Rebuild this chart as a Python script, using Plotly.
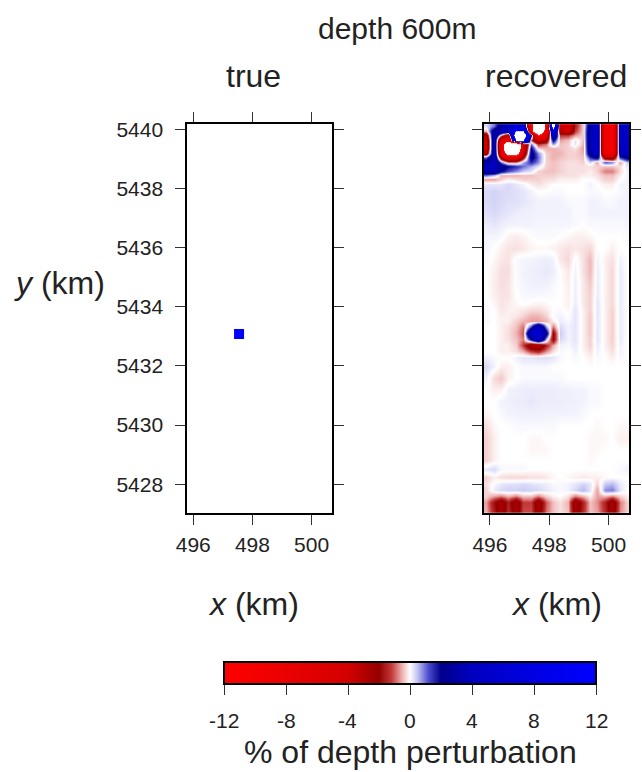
import plotly.graph_objects as go

# ---------------- data ----------------
true_x_edges = [497.38, 497.72]
true_y_edges = [5432.91, 5433.25]
true_value = [[12.0]]

rec_x = [495.875, 496.125, 496.375, 496.625, 496.875, 497.125, 497.375, 497.625, 497.875, 498.125,
         498.375, 498.625, 498.875, 499.125, 499.375, 499.625, 499.875, 500.125, 500.375, 500.625]

# rows listed from top (north) to bottom (south)
rec_y = [5440.10, 5439.95, 5439.80, 5439.65, 5439.50, 5439.35, 5439.20, 5439.05, 5438.90, 5438.75,
         5438.60, 5438.45, 5438.30, 5438.15, 5437.9, 5437.6, 5437.2, 5436.8, 5436.4, 5436.0,
         5435.6, 5435.2, 5434.8, 5434.4, 5434.1, 5433.9, 5433.7, 5433.5, 5433.3, 5433.1,
         5432.9, 5432.7, 5432.5, 5432.3, 5432.0, 5431.6, 5431.2, 5430.8, 5430.4, 5430.0,
         5429.6, 5429.2, 5428.8, 5428.5, 5428.25, 5428.0, 5427.8, 5427.6, 5427.4, 5427.05]

rec_z = [
    [0.3, 1.0, 3, 4, 6, 6, -10, -22, -10, 16, -4, -5, -1.5, -0.3, 3, 5, -9, -10, 4, 5],
    [-0.5, 3, 4, 4, 13, 13, -9, -20, -9, 8, -3, -4, -1.2, -0.3, 3.5, 5, -9, -10, 4, 5],
    [-3, 4, -0.5, -4, 18, 18, 2, -11, -6, 5, -1.2, -1.2, -0.6, -0.3, 3.5, 5, -9, -10, 4, 5],
    [-4, 4, -6, -8, 12.5, 12.5, -1, -4, -2.5, 2, -0.6, -0.4, 0.2, -0.4, 3.5, 5, -9, -10, 4, 5],
    [-4, 4, -7, -22, -22, -5, 1, -1.2, -0.8, 0.6, -0.4, -0.3, 0.2, -0.5, 3.5, 5, -9, -10, 4, 5],
    [-4, 4, -7, -22, -22, -5, 2, -0.3, -0.5, -0.5, -0.4, -0.3, -0.2, -0.6, 3.5, 5, -9, -10, 4, 5],
    [-3, 4, -6, -16, -16, -4, 2.5, 0.8, -0.3, -0.5, -0.5, -0.3, -0.3, -0.5, 3, 4.5, -8, -9, 3.5, 4.5],
    [1, 4, -3, -6, -6, -2, 2.5, 1.0, -0.3, -0.5, -0.4, -0.3, -0.3, -0.4, 1.5, 2.5, -3, -3.5, 1.5, 2.5],
    [3, 4, 1, -0.8, -0.8, 0.6, 1.5, 0.8, -0.3, -0.4, -0.3, -0.2, -0.2, -0.3, 0.3, -0.6, 1.2, 0.9, -0.6, 0.4],
    [4, 4, 3, 2, 1.5, 1, 0.6, 0.2, -0.3, -0.4, -0.3, -0.2, -0.2, -0.2, -0.2, -0.3, -0.4, -0.4, -0.2, 0.2],
    [3.5, 3.5, 2, 1.2, 0.8, 0.4, 0.2, -0.3, -0.4, -0.4, -0.3, -0.2, -0.2, -0.2, -0.1, -0.3, -0.8, -0.8, -0.2, 0.1],
    [1, 0.5, -0.5, -0.5, -0.5, -0.4, -0.4, -0.3, -0.3, -0.3, -0.2, -0.2, -0.2, -0.1, -0.1, -0.2, -0.4, -0.4, -0.1, 0.1],
    [-0.6, -0.6, -0.3, -0.1, -0.2, -0.3, -0.3, -0.3, -0.2, -0.2, -0.1, -0.1, -0.1, 0, 0, -0.1, -0.3, -0.3, 0, 0.1],
    [0.2, 0.2, 0.2, 0.3, 0.2, 0.1, -0.1, -0.2, -0.1, 0, 0, 0, 0, 0, 0.1, 0, -0.1, -0.1, 0.1, 0.1],
    [0.3, 0.35, 0.3, 0.3, 0.25, 0.2, 0.1, 0, 0, 0.05, 0.05, 0, 0, 0, 0.05, 0.05, 0, 0, 0.05, 0.1],
    [0.3, 0.35, 0.3, 0.25, 0.25, 0.2, 0.15, 0.1, 0.1, 0.1, 0.1, 0.05, 0.05, 0.05, 0.1, 0.1, 0.05, 0.05, 0.1, 0.1],
    [0.25, 0.3, 0.25, 0.2, 0.15, 0.12, 0.12, 0.1, 0.1, 0.1, 0.1, 0.1, 0.05, 0.05, 0.1, 0.1, 0.1, 0.1, 0.1, 0.1],
    [0.15, 0.2, 0.15, 0.1, 0.1, 0.1, 0.1, 0.08, 0.08, 0.08, 0.08, 0.08, 0.05, 0, 0.05, 0.05, 0.05, 0.05, 0.05, 0.08],
    [0.08, 0.08, 0.04, -0.08, -0.12, -0.08, 0, 0.04, 0.04, 0.04, 0, -0.05, -0.1, -0.1, -0.05, 0, 0, 0, 0, 0.04],
    [0.08, 0, -0.1, -0.18, -0.2, -0.15, -0.08, -0.05, -0.05, -0.08, -0.15, -0.2, -0.15, -0.2, -0.25, 0, 0, -0.1, 0, 0],
    [0.04, -0.05, -0.15, -0.18, 0.05, 0.08, 0.1, 0.12, 0.14, 0.1, -0.15, -0.25, 0.05, -0.2, -0.45, 0.1, -0.1, -0.2, 0.1, 0],
    [0, -0.1, -0.22, -0.22, 0.04, 0.1, 0.12, 0.15, 0.18, 0.14, 0, -0.15, 0.1, -0.2, -0.45, 0.15, -0.1, -0.25, 0.15, 0],
    [0, -0.12, -0.22, -0.18, 0.03, 0.08, 0.12, 0.12, 0.12, 0.06, 0, -0.12, 0.12, -0.15, -0.35, 0.15, -0.1, -0.25, 0.15, 0],
    [0, -0.1, -0.18, -0.18, 0, 0.05, 0.06, 0.06, 0.05, 0.03, 0, -0.1, 0.12, -0.15, -0.3, 0.15, -0.1, -0.25, 0.15, 0],
    [0.04, -0.05, -0.18, -0.12, -0.05, 0, -0.05, -0.1, -0.05, 0, 0, -0.1, 0.15, -0.15, -0.3, 0.2, -0.1, -0.25, 0.15, 0],
    [0.04, 0, -0.15, -0.1, -0.1, -0.15, -0.25, -0.25, -0.15, 0, 0.05, -0.05, 0.2, -0.1, -0.3, 0.2, -0.1, -0.3, 0.15, 0],
    [0.04, 0, -0.1, -0.1, -0.15, -0.3, -0.5, -0.5, -0.3, 0.05, 0.1, 0, 0.2, -0.1, -0.35, 0.2, -0.1, -0.3, 0.15, 0],
    [0.04, 0, -0.1, -0.1, -0.3, -0.5, -0.6, -0.6, -0.5, -0.1, 0.15, 0.05, 0.2, -0.1, -0.35, 0.2, -0.1, -0.3, 0.15, 0],
    [0, 0, -0.1, -0.2, -0.4, -0.9, 1.5, 5, 0.8, -0.9, 0.3, 0.1, 0.2, -0.1, -0.35, 0.2, -0.1, -0.3, 0.15, 0],
    [0, 0, -0.1, -0.2, -0.5, -1, 5, 6, 2.5, -2, 0.4, 0.1, 0.2, -0.1, -0.35, 0.2, -0.1, -0.3, 0.15, 0],
    [0, 0, -0.1, -0.2, -0.4, -0.8, 2, 5, 0.5, -2, 0.3, 0.1, 0.2, -0.1, -0.3, 0.2, -0.1, -0.3, 0.15, 0],
    [0, 0, -0.1, -0.1, -0.3, -1.2, -3, -3.5, -1.5, -0.5, 0.1, 0.05, 0.15, -0.1, -0.3, 0.15, -0.1, -0.25, 0.1, 0],
    [0, 0, -0.1, -0.1, -0.2, -0.5, -1.2, -1.5, -0.7, -0.2, 0.05, 0, 0.1, -0.05, -0.2, 0.1, -0.05, -0.2, 0.1, 0],
    [0.1, 0.05, 0, 0, 0.1, 0.2, 0.2, 0.25, 0.25, 0.2, 0.05, 0, 0.05, 0, -0.1, 0.05, 0, -0.1, 0.05, 0],
    [0.3, 0.1, -0.1, -0.1, 0, 0.05, 0.05, 0.05, 0.05, 0, 0, 0, 0, 0, 0, 0, 0, 0, 0, 0],
    [0.1, -0.25, -0.35, -0.1, 0, 0.05, 0.05, 0.05, 0.05, 0.05, 0.05, 0, 0, 0, 0, 0, 0, 0, 0, 0],
    [0, -0.1, -0.1, 0.1, 0.12, 0.15, 0.15, 0.15, 0.15, 0.15, 0.12, 0.12, 0.1, 0.1, 0.05, 0.05, 0, 0, 0, 0],
    [0, 0, 0.1, 0.12, 0.15, 0.15, 0.2, 0.15, 0.15, 0.15, 0.15, 0.12, 0.12, 0.1, 0.05, 0.05, 0, 0, 0, 0],
    [-0.05, 0, 0.05, 0.1, 0.1, 0.12, 0.12, 0.12, 0.1, 0.1, 0.1, 0.1, 0.1, 0.05, 0, 0, 0, 0, 0, 0],
    [-0.2, -0.05, 0, 0, 0.05, 0.05, 0.05, 0.05, 0.05, 0.05, 0, 0, 0, 0, 0, -0.05, 0, 0, -0.05, -0.05],
    [-0.3, -0.1, 0, 0, 0, 0, -0.05, -0.05, 0, 0, 0, 0, 0, 0, -0.05, -0.05, -0.05, 0, -0.1, -0.1],
    [-0.3, -0.1, 0, 0, 0, 0, -0.05, -0.05, -0.05, 0, 0, 0, 0, 0, -0.05, -0.05, 0, 0, 0, 0],
    [-0.3, -0.1, 0, 0, 0, 0, 0, 0, 0, 0, 0, 0, 0, 0, -0.05, 0, 0, 0, 0, 0],
    [0.2, 0.3, 0.05, 0.05, 0.05, 0.05, 0, 0, 0, 0, 0, 0, 0, 0, 0, 0, 0, 0, 0.05, 0.1],
    [-0.3, -0.1, -0.2, -0.25, -0.25, -0.25, -0.2, -0.2, -0.15, -0.05, 0, -0.05, -0.1, -0.15, -0.1, -0.1, -0.05, 0, 0, 0],
    [-0.2, 0.05, 0.2, 0.25, 0.25, 0.3, 0.25, 0.2, 0.15, 0.05, 0.05, 0.1, 0.2, 0.35, 0.2, -0.3, 0.45, 0.55, 0.15, 0],
    [-0.3, 0.15, 0.3, 0.35, 0.35, 0.4, 0.35, 0.3, 0.2, 0.1, 0.05, 0.1, 0.3, 0.55, 0.2, -0.6, 0.8, 0.9, 0.2, 0],
    [-0.3, -0.6, -0.8, -0.5, -0.8, -0.4, -0.4, -0.8, -0.3, -0.1, 0, -0.2, -0.8, -0.5, -0.1, -0.6, -0.5, -0.8, -0.3, -0.1],
    [-0.6, -1.8, -2.8, -1.5, -2.8, -1.2, -1.2, -2.8, -1, -0.4, -0.2, -0.5, -2.8, -1.5, -0.4, -0.7, -1.5, -2.8, -0.8, -0.3],
    [-0.5, -1.6, -2.6, -1.4, -2.6, -1.1, -1.1, -2.6, -0.9, -0.4, -0.2, -0.4, -2.6, -1.4, -0.4, -0.6, -1.4, -2.6, -0.7, -0.3],
]

x_ticks = [496, 498, 500]
y_ticks = [5428, 5430, 5432, 5434, 5436, 5438, 5440]
cbar_ticks = [-12, -8, -4, 0, 4, 8, 12]
cbar_ticktext = ["-12", "-8", "-4", "0", "4", "8", "12"]

# ---------------- colours ----------------
stop_vals = [-12, -8, -4, -2, -1.2, -0.5, 0, 0.5, 1.2, 2, 4, 8, 12]
stop_cols = ["rgb(255,0,0)", "rgb(235,0,0)", "rgb(212,0,0)", "rgb(148,0,0)", "rgb(195,55,55)",
             "rgb(238,178,178)", "rgb(255,255,255)", "rgb(192,192,243)", "rgb(75,75,205)",
             "rgb(0,0,138)", "rgb(0,0,192)", "rgb(0,0,228)", "rgb(0,0,255)"]

LIM = 12.0
OUT = 24.0  # values beyond +-12 are drawn white (out of colour range)
vis_scale = [[(v + LIM) / (2 * LIM), c] for v, c in zip(stop_vals, stop_cols)]
main_scale = [[0.0, "white"], [(-12.2 + OUT) / (2 * OUT), "white"]]
main_scale += [[(v + OUT) / (2 * OUT), c] for v, c in zip(stop_vals, stop_cols)]
main_scale += [[(12.2 + OUT) / (2 * OUT), "white"], [1.0, "white"]]

W, H = 642, 772
fx = lambda px: px / W
fy = lambda py: 1 - py / H

FONT = "Liberation Sans, Arial, Helvetica, sans-serif"
XR = [495.8, 500.7]
YR = [5427.04, 5440.18]

# colour bar geometry (pixels)
CB_LEFT, CB_RIGHT, CB_TOP, CB_THICK = 224, 596, 661.7, 21.5

fig = go.Figure()

# true model
fig.add_trace(go.Heatmap(
    x=true_x_edges, y=true_y_edges, z=true_value,
    zmin=-OUT, zmax=OUT, colorscale=main_scale, showscale=False,
    xaxis="x", yaxis="y", hoverinfo="skip"))

# recovered model (rows reversed to ascending y)
fig.add_trace(go.Heatmap(
    x=rec_x, y=rec_y[::-1], z=rec_z[::-1],
    zmin=-OUT, zmax=OUT, colorscale=main_scale, showscale=False,
    zsmooth="best", xaxis="x2", yaxis="y2"))

# colour bar carrier (placed outside the visible range)
fig.add_trace(go.Heatmap(
    x=[510, 511], y=[5500, 5501], z=[[-12, 12]],
    zmin=-LIM, zmax=LIM, colorscale=vis_scale, showscale=True,
    xaxis="x2", yaxis="y2", hoverinfo="skip",
    colorbar=dict(
        orientation="h", x=fx((CB_LEFT + CB_RIGHT) / 2), xanchor="center",
        y=fy(CB_TOP), yanchor="top",
        len=CB_RIGHT - CB_LEFT, lenmode="pixels", thickness=CB_THICK, thicknessmode="pixels",
        xpad=0, ypad=0, outlinewidth=2, outlinecolor="black",
        ticks="outside", ticklen=10, tickwidth=1.3, tickcolor="#333",
        tickvals=cbar_ticks, showticklabels=False,
    )))

axis_common = dict(
    showgrid=False, zeroline=False, showline=True, linewidth=2, linecolor="black",
    mirror="ticks", ticks="outside", ticklen=10, tickwidth=1.3, tickcolor="#333",
    automargin=False, tickfont=dict(family=FONT, size=21, color="#222"),
)

fig.update_layout(
    width=W, height=H, margin=dict(l=0, r=0, t=0, b=0, autoexpand=False),
    paper_bgcolor="white", plot_bgcolor="white", showlegend=False,
    xaxis=dict(domain=[fx(187.3), fx(332.3)], range=XR, tickvals=x_ticks,
               ticktext=[str(v) for v in x_ticks], anchor="y", ticklabelstandoff=2, **axis_common),
    yaxis=dict(domain=[fy(512.7), fy(124)], range=YR, tickvals=y_ticks,
               ticktext=[str(v) for v in y_ticks], anchor="x", ticklabelstandoff=8, **axis_common),
    xaxis2=dict(domain=[fx(484), fx(629.3)], range=XR, tickvals=x_ticks,
                ticktext=[str(v) for v in x_ticks], anchor="y2", ticklabelstandoff=2, **axis_common),
    yaxis2=dict(domain=[fy(512.7), fy(124)], range=YR, tickvals=y_ticks,
                showticklabels=False, anchor="x2", **axis_common),
)

def note(text, px, py, size):
    fig.add_annotation(text=text, x=fx(px), y=fy(py), xref="paper", yref="paper",
                       xanchor="center", yanchor="middle", showarrow=False,
                       font=dict(family=FONT, size=size, color="#222"))

# colour bar tick labels, placed along the bar by value
for v, t in zip(cbar_ticks, cbar_ticktext):
    note(t, CB_LEFT + (v + LIM) / (2 * LIM) * (CB_RIGHT - CB_LEFT), 720, 21)

note("depth 600m", 397, 28, 30)
note("true", 253, 76, 32)
note("recovered", 556, 76, 32)
note("<i>y</i> (km)", 59, 283, 32)
note("<i>x</i> (km)", 253, 604, 32)
note("<i>x</i> (km)", 556, 604, 32)
note("% of depth perturbation", 410, 752, 32)

fig.write_html("out.html", config={"displayModeBar": False},
               post_script="document.body.style.margin='0';document.body.style.overflow='hidden';")
